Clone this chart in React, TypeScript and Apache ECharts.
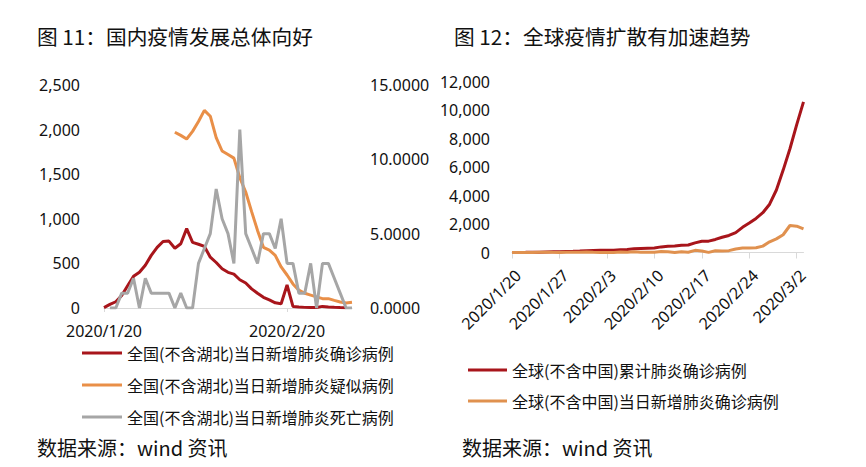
import React, { useEffect, useRef } from 'react';
import * as echarts from 'echarts';

// Categories: daily dates 2020/1/20 .. 2020/3/3
const dates = [
  '2020/1/20', '2020/1/21', '2020/1/22', '2020/1/23', '2020/1/24', '2020/1/25', '2020/1/26', '2020/1/27',
  '2020/1/28', '2020/1/29', '2020/1/30', '2020/1/31', '2020/2/1', '2020/2/2', '2020/2/3', '2020/2/4',
  '2020/2/5', '2020/2/6', '2020/2/7', '2020/2/8', '2020/2/9', '2020/2/10', '2020/2/11', '2020/2/12',
  '2020/2/13', '2020/2/14', '2020/2/15', '2020/2/16', '2020/2/17', '2020/2/18', '2020/2/19', '2020/2/20',
  '2020/2/21', '2020/2/22', '2020/2/23', '2020/2/24', '2020/2/25', '2020/2/26', '2020/2/27', '2020/2/28',
  '2020/2/29', '2020/3/1', '2020/3/2', '2020/3/3',
];
const chinaDates = dates.slice(0, 43);
const chinaLabelDates = ['2020/1/20', '2020/2/20'];

// Figure 11 series (China excl. Hubei)
const confirmedExHubei = [
  5, 40, 70, 140, 250, 355, 400, 480, 590, 680,
  745, 750, 670, 720, 890, 735, 715, 690, 570, 510,
  440, 400, 380, 317, 280, 215, 165, 120, 90, 58,
  48, 258, 18, 11, 7, 5, 5, 18, 12, 8,
  5, 3, null,
];
const suspectedExHubei = [
  null, null, null, null, null, null, null, null, null, null,
  null, null, 1970, 1935, 1895, 1980, 2090, 2215, 2150, 1910,
  1760, 1720, 1680, 1460, 1300, 1080, 870, 680, 650, 590,
  460, 370, 270, 200, 165, 145, 125, 105, 105, 85,
  67, 56, 65,
];
const deathsExHubei = [
  null, 0, 0, 1, 1, 2, 0, 2, 1, 1,
  1, 1, 0, 1, 0, 0, 3, 4, 5, 8,
  6, 5, 3, 12, 5, 4, 3, 5, 5, 4,
  6, 3, 3, 1, 1, 3, 0, 3, 3, 2,
  1, 0, 0,
];

// Figure 12 series (world excl. China)
const globalCumulative = [
  5, 6, 10, 15, 25, 40, 50, 60, 70, 80,
  100, 130, 145, 150, 155, 160, 190, 215, 270, 290,
  305, 320, 395, 440, 450, 505, 530, 680, 790, 800,
  920, 1070, 1200, 1400, 1770, 2070, 2400, 2800, 3400, 4400,
  5800, 7300, 9000, 10600,
];
const globalDailyNew = [
  0, 2, 3, 5, 10, 15, 10, 8, 12, 14,
  16, 30, 15, 8, 6, 8, 30, 25, 50, 20,
  20, 15, 75, 45, 6, 55, 20, 150, 110, 10,
  120, 100, 130, 250, 310, 310, 330, 450, 750, 960,
  1250, 1900, 1850, 1660,
];

const names = {
  c1: '全国(不含湖北)当日新增肺炎确诊病例',
  c2: '全国(不含湖北)当日新增肺炎疑似病例',
  c3: '全国(不含湖北)当日新增肺炎死亡病例',
  g1: '全球(不含中国)累计肺炎确诊病例',
  g2: '全球(不含中国)当日新增肺炎确诊病例',
};

const RED = '#A8151B';
const ORANGE = '#E98F48';
const GRAY = '#A6A6A6';
const ORANGE2 = '#E0914F';
const TXT = '#111111';
const CJK = '"Noto Sans CJK SC", "Noto Sans", sans-serif';
const LATIN = '"Noto Sans", "Noto Sans CJK SC", sans-serif';

export default function App() {
  const ref = useRef<HTMLDivElement>(null);

  useEffect(() => {
    document.body.style.margin = '0';
    const chart = echarts.init(ref.current as HTMLDivElement, null, { renderer: 'svg' });
    const leftShow = (_i: number, v: string) => chinaLabelDates.indexOf(v) >= 0;
    const axisLabelBase = { fontSize: 16, color: TXT, fontFamily: LATIN };
    const titleStyle = { fontSize: 20.7, fontWeight: 'normal', color: TXT, fontFamily: CJK };
    const sourceStyle = { fontSize: 20, fontWeight: 'normal', color: TXT, fontFamily: CJK };

    chart.setOption({
      animation: false,
      backgroundColor: '#ffffff',
      title: [
        { text: '图 11：国内疫情发展总体向好', left: 37, top: 26, padding: 0, textStyle: titleStyle },
        { text: '图 12：全球疫情扩散有加速趋势', left: 454, top: 26, padding: 0, textStyle: titleStyle },
        { text: '数据来源：wind 资讯', left: 37, top: 437, padding: 0, textStyle: sourceStyle },
        { text: '数据来源：wind 资讯', left: 462, top: 437, padding: 0, textStyle: sourceStyle },
      ],
      legend: [
        { data: [names.c1, names.c2, names.c3], orient: 'vertical', left: 82, top: 343, padding: 0,
          itemWidth: 40, itemHeight: 3, icon: 'rect', itemGap: 12, selectedMode: false,
          textStyle: { fontSize: 16, lineHeight: 20, color: TXT, fontFamily: CJK } },
        { data: [names.g1, names.g2], orient: 'vertical', left: 468, top: 360, padding: 0,
          itemWidth: 39, itemHeight: 3, icon: 'rect', itemGap: 11, selectedMode: false,
          textStyle: { fontSize: 16, lineHeight: 20, color: TXT, fontFamily: CJK } },
      ],
      grid: [
        { left: 104, top: 85, width: 248, height: 223 },
        { left: 512, top: 82, width: 291.5, height: 170.5 },
        { left: 518, top: 82, width: 291.5, height: 170.5 },
      ],
      xAxis: [
        { type: 'category', gridIndex: 0, data: chinaDates, boundaryGap: false,
          axisLine: { lineStyle: { color: '#d9d9d9', width: 1 } },
          axisTick: { show: true, interval: leftShow, length: 4, lineStyle: { color: '#d9d9d9' } },
          axisLabel: { ...axisLabelBase, interval: leftShow, margin: 15 } },
        { type: 'category', gridIndex: 1, data: dates, boundaryGap: false,
          axisLine: { lineStyle: { color: '#d9d9d9', width: 1 } },
          axisTick: { show: true, interval: 6, length: 6, lineStyle: { color: '#d9d9d9' } },
          axisLabel: { show: false } },
        { type: 'category', gridIndex: 2, data: dates, boundaryGap: false,
          axisLine: { show: false }, axisTick: { show: false },
          axisLabel: { ...axisLabelBase, interval: 6, rotate: 45, margin: 20 } },
      ],
      yAxis: [
        { type: 'value', gridIndex: 0, min: 0, max: 2500, interval: 500,
          splitLine: { show: false }, axisLine: { show: false }, axisTick: { show: false },
          axisLabel: { ...axisLabelBase, margin: 24, formatter: (v: number) => v.toLocaleString('en-US') } },
        { type: 'value', gridIndex: 0, position: 'right', min: 0, max: 15, interval: 5,
          splitLine: { show: false }, axisLine: { show: false }, axisTick: { show: false },
          axisLabel: { ...axisLabelBase, margin: 18, formatter: (v: number) => v.toFixed(4) } },
        { type: 'value', gridIndex: 1, min: 0, max: 12000, interval: 2000,
          splitLine: { show: false }, axisLine: { show: false }, axisTick: { show: false },
          axisLabel: { ...axisLabelBase, margin: 22, formatter: (v: number) => v.toLocaleString('en-US') } },
        { type: 'value', gridIndex: 2, show: false },
      ],
      series: [
        { name: names.c1, type: 'line', xAxisIndex: 0, yAxisIndex: 0, data: confirmedExHubei,
          symbol: 'none', lineStyle: { width: 3, color: RED }, itemStyle: { color: RED } },
        { name: names.c2, type: 'line', xAxisIndex: 0, yAxisIndex: 0, data: suspectedExHubei,
          symbol: 'none', lineStyle: { width: 3, color: ORANGE }, itemStyle: { color: ORANGE } },
        { name: names.c3, type: 'line', xAxisIndex: 0, yAxisIndex: 1, data: deathsExHubei,
          symbol: 'none', lineStyle: { width: 3, color: GRAY }, itemStyle: { color: GRAY } },
        { name: names.g1, type: 'line', xAxisIndex: 1, yAxisIndex: 2, data: globalCumulative,
          symbol: 'none', lineStyle: { width: 3, color: RED }, itemStyle: { color: RED } },
        { name: names.g2, type: 'line', xAxisIndex: 1, yAxisIndex: 2, data: globalDailyNew,
          symbol: 'none', lineStyle: { width: 3, color: ORANGE2 }, itemStyle: { color: ORANGE2 } },
      ],
    });

    return () => chart.dispose();
  }, []);

  return <div ref={ref} style={{ width: 866, height: 467, background: '#fff' }} />;
}
